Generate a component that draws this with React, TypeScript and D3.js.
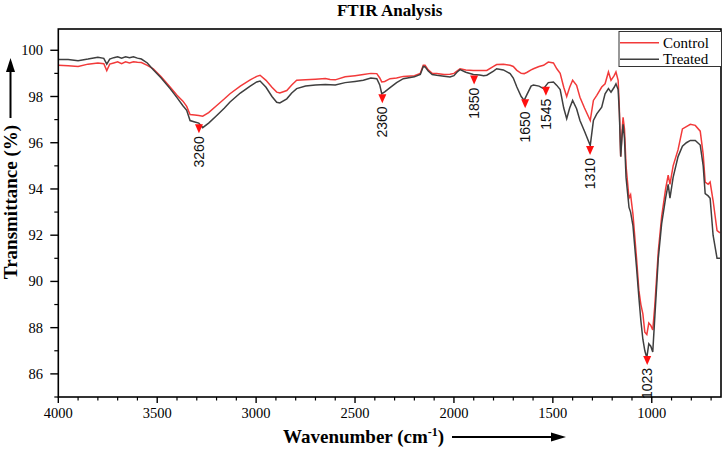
import React from "react";
import * as d3 from "d3";

// ---- data ----
const wavenumbers = [
  4000, 3950, 3900, 3850, 3800, 3770, 3755, 3740, 3720, 3700, 3680, 3660, 3640, 3620, 3600, 3580, 3550, 3520,
  3480, 3435, 3400, 3370, 3351, 3334, 3310, 3290, 3270, 3240, 3199, 3160, 3132, 3080, 3030, 2997, 2980, 2950,
  2920, 2896, 2880, 2845, 2820, 2795, 2750, 2700, 2650, 2626, 2600, 2550, 2500, 2458, 2420, 2390, 2375, 2365,
  2350, 2323, 2290, 2256, 2200, 2170, 2155, 2146, 2130, 2110, 2087, 2050, 2020, 2000, 1985, 1969, 1940, 1902,
  1870, 1850, 1834, 1800, 1784, 1750, 1716, 1700, 1682, 1660, 1645, 1630, 1610, 1598, 1570, 1547, 1523, 1497,
  1480, 1463, 1445, 1430, 1415, 1400, 1380, 1363, 1340, 1311, 1295, 1278, 1253, 1236, 1219, 1206, 1190, 1181,
  1170, 1164, 1157, 1150, 1145, 1138, 1130, 1115, 1107, 1095, 1077, 1065, 1055, 1045, 1035, 1025, 1015, 1005,
  995, 985, 967, 950, 930, 917, 908, 892, 867, 845, 825, 805, 780, 755, 740, 730, 715, 705, 690, 670, 655,
];
const controlValues = [
  99.35, 99.33, 99.3, 99.4, 99.45, 99.42, 99.12, 99.4, 99.45, 99.5, 99.42, 99.5, 99.45, 99.5, 99.48, 99.47, 99.35, 99.2,
  98.85, 98.41, 98.05, 97.8, 97.57, 97.22, 97.2, 97.18, 97.15, 97.3, 97.61, 97.9, 98.12, 98.45, 98.72, 98.87, 98.92, 98.7,
  98.4, 98.19, 98.15, 98.26, 98.5, 98.7, 98.72, 98.75, 98.78, 98.74, 98.72, 98.85, 98.9, 98.95, 99.0, 98.99, 98.8, 98.63,
  98.65, 98.77, 98.8, 98.87, 98.9, 99.0, 99.35, 99.35, 99.15, 99.0, 98.99, 98.95, 98.96, 99.0, 99.1, 99.2, 99.15, 99.13,
  99.12, 99.13, 99.13, 99.3, 99.38, 99.4, 99.35, 99.3, 99.13, 99.0, 98.99, 99.05, 99.15, 99.2, 99.3, 99.35, 99.49, 99.45,
  99.2, 99.0, 98.4, 98.0, 98.4, 98.7, 98.48, 97.97, 97.5, 96.96, 97.83, 98.05, 98.41, 98.55, 99.06, 98.7, 98.9, 99.06,
  98.7, 97.5, 95.4, 96.5, 97.1, 96.6, 95.0, 93.6, 93.75, 92.9, 91.0, 89.6, 89.0, 88.6, 87.8, 87.7, 88.2, 88.1,
  87.9, 88.9, 91.3, 92.8, 94.0, 94.6, 94.2, 95.0, 95.7, 96.6, 96.7, 96.8, 96.75, 96.5, 95.5, 94.3, 94.2, 94.3, 93.5, 92.2, 92.1,
];
const treatedValues = [
  99.6, 99.6, 99.55, 99.62, 99.7, 99.65, 99.4, 99.62, 99.68, 99.72, 99.66, 99.72, 99.68, 99.72, 99.66, 99.62, 99.45, 99.16,
  98.8, 98.34, 97.95, 97.6, 97.4, 96.96, 96.9, 96.85, 96.65, 96.85, 97.18, 97.5, 97.76, 98.15, 98.45, 98.63, 98.67, 98.4,
  98.0, 97.75, 97.72, 97.9, 98.15, 98.34, 98.45, 98.5, 98.52, 98.51, 98.5, 98.6, 98.65, 98.7, 98.8, 98.77, 98.5, 98.12,
  98.2, 98.38, 98.6, 98.77, 98.85, 98.95, 99.3, 99.28, 99.1, 98.95, 98.92, 98.88, 98.84, 98.9, 99.05, 99.16, 99.05, 98.95,
  98.93, 98.9, 98.92, 99.1, 99.2, 99.15, 98.99, 98.8, 98.41, 98.0, 97.83, 98.1, 98.45, 98.5, 98.45, 98.34, 98.6, 98.63,
  98.48, 98.3, 97.5, 97.04, 97.5, 97.83, 97.47, 96.96, 96.5, 95.88, 96.96, 97.25, 97.54, 98.12, 98.34, 98.19, 98.4, 98.55,
  98.3, 97.3, 95.4, 96.3, 96.8, 96.2, 94.5, 93.2, 93.0, 92.4, 90.6, 89.3, 88.3, 87.5, 87.0, 86.7, 87.3, 87.2,
  86.95, 88.4, 91.0, 92.5, 93.6, 94.2, 93.6, 94.5, 95.4, 95.85, 96.0, 96.1, 96.1, 95.9, 95.0, 93.8, 93.7, 93.6, 92.0, 91.0, 91.0,
];
const peakLabels = ["3260", "2360", "1850", "1650", "1545", "1310", "1023"];
const peakPositions = [3289, 2362, 1898, 1640, 1535, 1312, 1023];
const xTickValues = [4000, 3500, 3000, 2500, 2000, 1500, 1000];
const yTickValues = [86, 88, 90, 92, 94, 96, 98, 100];
const seriesNames = ["Control", "Treated"];
const seriesColors = ["#f23a3a", "#3f3f3f"];

const W = 724;
const H = 449;
const L = 58.3;
const R = 721;
const T = 29;
const B = 397;

export default function App() {
  const x = d3.scaleLinear().domain([4000, 650]).range([L, R]);
  const y = d3.scaleLinear().domain([85, 100.92]).range([B, T]);

  const ctrl = wavenumbers.map((w, i) => [w, controlValues[i]] as [number, number]);
  const trt = wavenumbers.map((w, i) => [w, treatedValues[i]] as [number, number]);
  const line = d3
    .line<[number, number]>()
    .x((d) => x(d[0]))
    .y((d) => y(d[1]));

  const interpTreated = (w: number) => {
    const xs = wavenumbers.slice().reverse();
    const ys = treatedValues.slice().reverse();
    const i = d3.bisectLeft(xs, w);
    if (i <= 0) return ys[0];
    if (i >= xs.length) return ys[ys.length - 1];
    const t = (w - xs[i - 1]) / (xs[i] - xs[i - 1]);
    return ys[i - 1] + t * (ys[i] - ys[i - 1]);
  };

  const xMinor = d3.range(700, 4001, 100).filter((v) => v % 500 !== 0);
  const yMinor = d3.range(85, 101, 1).filter((v) => v % 2 !== 0);

  const serif = "'Liberation Serif', 'Times New Roman', serif";
  const sans = "'Liberation Sans', Arial, sans-serif";

  return (
    <svg
      width={W}
      height={H}
      style={{ position: "absolute", left: 0, top: 0, background: "#fff" }}
      fontFamily={serif}
    >
      <rect x={0} y={0} width={W} height={H} fill="#fff" />
      <text x={(L + R) / 2} y={16} textAnchor="middle" fontWeight="bold" fontSize={17}>
        FTIR Analysis
      </text>

      <g clipPath="url(#clip)">
        <defs>
          <clipPath id="clip">
            <rect x={L} y={T} width={R - L} height={B - T} />
          </clipPath>
        </defs>
        <path d={line(ctrl) || ""} fill="none" stroke={seriesColors[0]} strokeWidth={1.5} />
        <path d={line(trt) || ""} fill="none" stroke={seriesColors[1]} strokeWidth={1.5} />
      </g>

      {/* peak annotations */}
      {peakLabels.map((lab, i) => {
        const w = peakPositions[i];
        const px = x(w);
        const py = y(interpTreated(w)) + 1;
        return (
          <g key={lab}>
            <path d={`M${px - 4},${py} L${px + 4},${py} L${px},${py + 9} Z`} fill="#ff1010" />
            <text
              transform={`translate(${px + 5},${py + 12}) rotate(-90)`}
              textAnchor="end"
              fontFamily={sans}
              fontSize={14}
              fill="#111"
            >
              {lab}
            </text>
          </g>
        );
      })}

      {/* frame */}
      <rect x={L} y={T} width={R - L} height={B - T} fill="none" stroke="#000" strokeWidth={1.6} />

      {/* x ticks */}
      {xTickValues.map((v) => (
        <g key={"xt" + v}>
          <line x1={x(v)} x2={x(v)} y1={B} y2={B + 6} stroke="#000" strokeWidth={1.4} />
          <text x={x(v)} y={418} textAnchor="middle" fontSize={14.5}>
            {v}
          </text>
        </g>
      ))}
      {xMinor.map((v) => (
        <line key={"xm" + v} x1={x(v)} x2={x(v)} y1={B} y2={B + 3.5} stroke="#000" strokeWidth={1.2} />
      ))}

      {/* y ticks */}
      {yTickValues.map((v) => (
        <g key={"yt" + v}>
          <line x1={L - 8} x2={L} y1={y(v)} y2={y(v)} stroke="#000" strokeWidth={1.4} />
          <text x={43} y={y(v)} dy="0.35em" textAnchor="end" fontSize={14.5}>
            {v}
          </text>
        </g>
      ))}
      {yMinor.map((v) => (
        <line key={"ym" + v} x1={L - 4} x2={L} y1={y(v)} y2={y(v)} stroke="#000" strokeWidth={1.2} />
      ))}

      {/* y axis title with arrow */}
      <text transform={`translate(17,202) rotate(-90)`} textAnchor="middle" fontWeight="bold" fontSize={19}>
        Transmittance (%)
      </text>
      <line x1={10.5} x2={10.5} y1={118} y2={70} stroke="#000" strokeWidth={2} />
      <path d="M6,72 L15,72 L10.5,58 Z" fill="#000" />

      {/* x axis title with arrow */}
      <text x={283} y={443} fontWeight="bold" fontSize={19}>
        Wavenumber (cm
        <tspan dy={-7} fontSize={12}>-1</tspan>
        <tspan dy={7}>)</tspan>
      </text>
      <line x1={452} x2={553} y1={437} y2={437} stroke="#000" strokeWidth={2} />
      <path d="M551,432.5 L551,441.5 L566,437 Z" fill="#000" />

      {/* legend */}
      <rect x={619} y={31.5} width={102.5} height={35} fill="#fff" stroke="#333" strokeWidth={1} />
      {seriesNames.map((n, i) => (
        <g key={n}>
          <line x1={620} x2={659} y1={42.7 + i * 16.6} y2={42.7 + i * 16.6} stroke={seriesColors[i]} strokeWidth={1.6} />
          <text x={663} y={47.8 + i * 16.6} fontSize={15}>
            {n}
          </text>
        </g>
      ))}
    </svg>
  );
}
